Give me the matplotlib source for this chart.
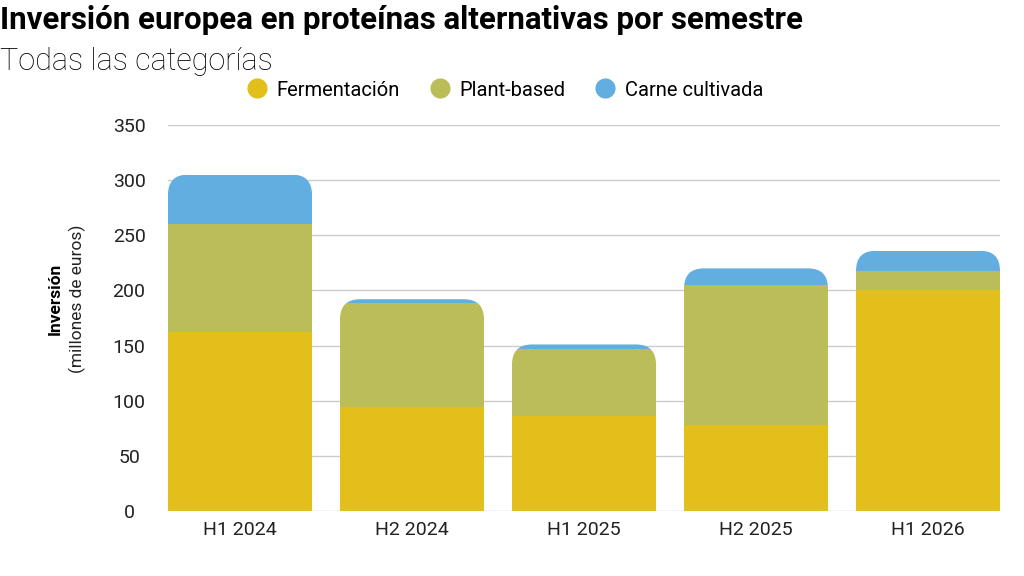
import matplotlib
matplotlib.use('Agg')
import matplotlib.pyplot as plt
from matplotlib.patches import FancyBboxPatch
from matplotlib.lines import Line2D
import numpy as np

plt.rcParams['font.family'] = ['Roboto', 'DejaVu Sans']

# data (millones de euros)
semestres = ['H1 2024', 'H2 2024', 'H1 2025', 'H2 2025', 'H1 2026']
fermentacion = [162, 94, 86, 78, 200]
plant_based = [98, 95, 61, 127, 18]
carne_cultivada = [45, 3, 4, 15, 18]
series_names = ['Fermentación', 'Plant-based', 'Carne cultivada']
colors = ['#E2BF1A', '#BBBD59', '#62AEE1']

fig = plt.figure(figsize=(10.24, 5.76), dpi=100)
ax = fig.add_axes([168/1024, 65/576, 832/1024, 386/576])

x = np.arange(len(semestres))
w = 144/172
ax.set_xlim(-0.5*w, len(semestres) - 1 + 0.5*w)
ax.set_ylim(0, 350)

# rounding of the stack tops: radius in px converted to data units
rx = 20/172
ry = 20/(386/350)

series = [fermentacion, plant_based, carne_cultivada]
bottoms = np.zeros(len(semestres))
bars = []
for vals, c in zip(series, colors):
    b = ax.bar(x, vals, width=w, bottom=bottoms, color=c, linewidth=0, zorder=3)
    bars.append(b)
    bottoms = bottoms + np.array(vals)

totals = bottoms
for i in range(len(semestres)):
    clip = FancyBboxPatch((x[i] - w/2, -40), w, totals[i] + 40,
                          boxstyle='round,pad=0,rounding_size=%f' % rx,
                          mutation_aspect=ry/rx, transform=ax.transData,
                          facecolor='none', edgecolor='none')
    ax.add_patch(clip)
    for b in bars:
        b[i].set_clip_path(clip)

ax.set_yticks(range(0, 351, 50))
ax.set_xticks(x)
ax.set_xticklabels(semestres)
ax.grid(axis='y', color='#cccccc', linewidth=1, zorder=0)
ax.set_axisbelow(True)
for s in ax.spines.values():
    s.set_visible(False)
ax.tick_params(axis='both', length=0, labelsize=14, colors='#222222')
ax.tick_params(axis='y', pad=28)
ax.tick_params(axis='x', pad=7)
for lbl in ax.get_yticklabels():
    lbl.set_horizontalalignment('center')

fig.text(55/1024, 1 - 299/576, 'Inversión', rotation=90, fontsize=12.5,
         fontweight='bold', ha='center', va='center')
fig.text(77/1024, 1 - 299/576, '(millones de euros)', rotation=90, fontsize=12.5,
         ha='center', va='center', color='#222222')

fig.text(0.0, 1 - 20/576, 'Inversión europea en proteínas alternativas por semestre',
         fontsize=22.5, fontweight='bold', ha='left', va='center')
fig.text(0.0, 1 - 61/576, 'Todas las categorías', fontsize=22,
         fontweight='light', ha='left', va='center')

handles = [Line2D([], [], marker='o', linestyle='none', markersize=14.5,
                  markerfacecolor=c, markeredgecolor='none') for c in colors]
fig.legend(handles, series_names, loc='center', ncol=3,
           bbox_to_anchor=(505/1024, 1 - 90/576), frameon=False,
           fontsize=14.5, handlelength=1.0, handletextpad=0.45,
           columnspacing=1.5)

fig.savefig('out.png', dpi=100)
